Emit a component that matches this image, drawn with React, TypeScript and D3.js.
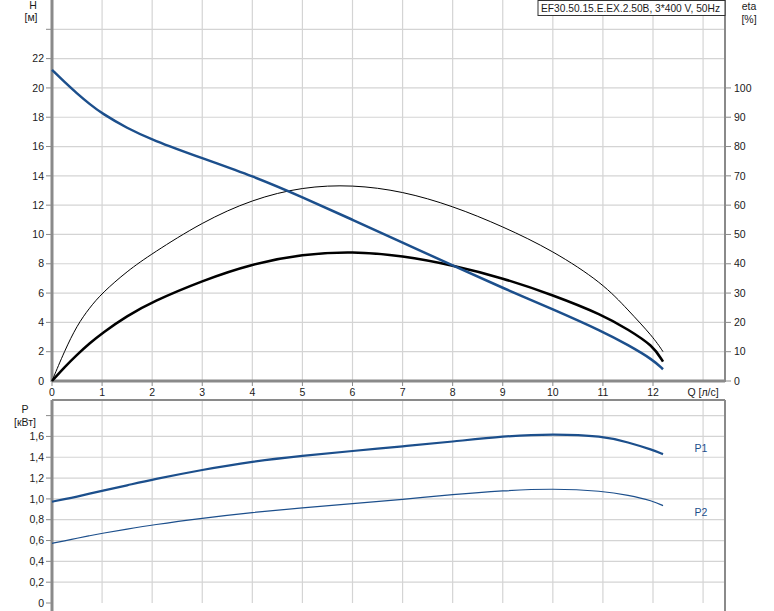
import React from "react";
import * as d3 from "d3";

const qPts = [0, 0.25, 0.5, 0.75, 1, 1.5, 2, 3, 4, 5, 6, 7, 8, 9, 10, 11, 11.5, 12, 12.2];
const headH = [21.23, 20.4, 19.62, 18.9, 18.25, 17.25, 16.45, 15.2, 14.0, 12.55, 11.0, 9.45, 7.88, 6.35, 4.9, 3.37, 2.46, 1.45, 0.8];
const etaThin = [0, 2.05, 3.8, 5.0, 6.0, 7.5, 8.7, 10.85, 12.4, 13.25, 13.4, 12.95, 11.95, 10.55, 8.9, 6.67, 4.85, 3.02, 2.0];
const etaThick = [0, 0.95, 1.8, 2.57, 3.27, 4.45, 5.4, 6.85, 8.0, 8.65, 8.85, 8.55, 7.9, 7.03, 5.87, 4.5, 3.52, 2.42, 1.32];
const p1 = [0.973, 0.997, 1.022, 1.05, 1.078, 1.13, 1.185, 1.28, 1.36, 1.415, 1.46, 1.505, 1.55, 1.602, 1.626, 1.604, 1.545, 1.47, 1.43];
const p2 = [0.573, 0.597, 0.622, 0.646, 0.67, 0.71, 0.75, 0.815, 0.87, 0.915, 0.955, 0.995, 1.042, 1.079, 1.1, 1.076, 1.037, 0.98, 0.935];

const qTicks = [0, 1, 2, 3, 4, 5, 6, 7, 8, 9, 10, 11, 12];
const hTicks = [2, 4, 6, 8, 10, 12, 14, 16, 18, 20, 22];
const etaTicks = [10, 20, 30, 40, 50, 60, 70, 80, 90, 100];
const pTicks = [0.2, 0.4, 0.6, 0.8, 1.0, 1.2, 1.4, 1.6];

const title = "EF30.50.15.E.EX.2.50B, 3*400 V, 50Hz";

const L = 52, R = 725;
const TOP_B = 381, TOP_T = 0;
const BOT_B = 603, BOT_T = 400;

export default function App() {
  const x = d3.scaleLinear().domain([0, 12]).range([L, 653]);
  const xMax = x.invert(R);
  const yH = d3.scaleLinear().domain([0, 26]).range([TOP_B, TOP_T]);
  const yEta = d3.scaleLinear().domain([0, 130]).range([TOP_B, TOP_T]);
  const yP = d3.scaleLinear().domain([0, 1.95]).range([BOT_B, BOT_T]);

  const mk = (ys: number[], sc: d3.ScaleLinear<number, number>) =>
    d3.line<number>().x((_, i) => x(qPts[i])).y((v) => sc(v)).curve(d3.curveBasis)(ys) || "";

  const gridX = d3.range(1, Math.floor(xMax) + 1);
  const gridH = d3.range(2, 26, 2);
  const gridP = d3.range(0.2, 1.9, 0.2);
  const blue = "#1c4f8c";
  const font = "Liberation Sans, Arial, sans-serif";
  const gridC = "#d4d4d4";
  const axC = "#8a8a8a";
  const txt = "#1a1a1a";

  return (
    <svg width={774} height={611} style={{ position: "absolute", left: 0, top: 0 }} fontFamily={font} fontSize={10.5}>
      <rect width={774} height={611} fill="#fff" />
      {gridX.map((q) => (
        <line key={"gx" + q} x1={x(q)} x2={x(q)} y1={TOP_T} y2={TOP_B} stroke={gridC} strokeWidth={1.2} />
      ))}
      {gridH.map((h) => (
        <line key={"gh" + h} x1={L} x2={R} y1={yH(h)} y2={yH(h)} stroke={gridC} strokeWidth={1.2} />
      ))}
      {gridX.map((q) => (
        <line key={"bx" + q} x1={x(q)} x2={x(q)} y1={BOT_T} y2={BOT_B} stroke={gridC} strokeWidth={1.2} />
      ))}
      {gridP.map((p) => (
        <line key={"bp" + p} x1={L} x2={R} y1={yP(p)} y2={yP(p)} stroke={gridC} strokeWidth={1.2} />
      ))}

      <line x1={L} x2={L} y1={TOP_T} y2={TOP_B + 1} stroke={axC} strokeWidth={3} />
      <line x1={L} x2={R} y1={TOP_B} y2={TOP_B} stroke={axC} strokeWidth={3} />
      <line x1={R} x2={R} y1={TOP_T} y2={TOP_B + 1} stroke={axC} strokeWidth={2} />
      {[...hTicks, 24].map((h) => (
        <line key={"th" + h} x1={L - 6} x2={L} y1={yH(h)} y2={yH(h)} stroke={axC} strokeWidth={1} />
      ))}
      {hTicks.map((h) => (
        <text key={"lh" + h} x={L - 8} y={yH(h)} dy="0.35em" textAnchor="end" fill={txt}>{h}</text>
      ))}
      <text x={L - 8} y={TOP_B} dy="0.35em" textAnchor="end" fill={txt}>0</text>
      {[0, ...etaTicks].map((e) => (
        <line key={"te" + e} x1={R} x2={R + 6} y1={yEta(e)} y2={yEta(e)} stroke={axC} strokeWidth={1} />
      ))}
      {[0, ...etaTicks].map((e) => (
        <text key={"le" + e} x={R + 9} y={yEta(e)} dy="0.35em" fill={txt}>{e}</text>
      ))}
      {qTicks.map((q) => (
        <line key={"tq" + q} x1={x(q)} x2={x(q)} y1={TOP_B} y2={TOP_B + 5} stroke={axC} strokeWidth={1} />
      ))}
      {qTicks.map((q) => (
        <text key={"lq" + q} x={x(q)} y={TOP_B + 15} textAnchor="middle" fill={txt}>{q}</text>
      ))}
      <text x={x(13)} y={TOP_B + 15} textAnchor="middle" fill={txt}>Q [л/с]</text>
      <text x={33} y={9} textAnchor="middle" fill={txt}>H</text>
      <text x={31} y={21} textAnchor="middle" fill={txt}>[м]</text>
      <text x={749} y={10} textAnchor="middle" fill={txt}>eta</text>
      <text x={749} y={23} textAnchor="middle" fill={txt}>[%]</text>
      <rect x={538} y={0.5} width={187} height={15} fill="#fff" stroke="#333" strokeWidth={1} />
      <text x={541} y={12} textLength={179} lengthAdjust="spacingAndGlyphs" fill={txt}>{title}</text>

      <path d={mk(etaThin, yH)} fill="none" stroke="#000" strokeWidth={1} />
      <path d={mk(etaThick, yH)} fill="none" stroke="#000" strokeWidth={2.5} />
      <path d={mk(headH, yH)} fill="none" stroke={blue} strokeWidth={2.5} />

      <line x1={L} x2={L} y1={BOT_T} y2={611} stroke={axC} strokeWidth={3} />
      <line x1={L} x2={R} y1={BOT_T} y2={BOT_T} stroke={axC} strokeWidth={2} />
      <line x1={R} x2={R} y1={BOT_T} y2={611} stroke={axC} strokeWidth={2} />
      {[0, ...pTicks, 1.8].map((p) => (
        <line key={"tp" + p} x1={L - 6} x2={L} y1={yP(p)} y2={yP(p)} stroke={axC} strokeWidth={1} />
      ))}
      {[0, ...pTicks].map((p) => (
        <text key={"lp" + p} x={L - 8} y={yP(p)} dy="0.35em" textAnchor="end" fill={txt}>
          {p === 0 ? "0" : p.toFixed(1).replace(".", ",")}
        </text>
      ))}
      <text x={25} y={413} textAnchor="middle" fill={txt}>P</text>
      <text x={25} y={426} textAnchor="middle" fill={txt}>[кВт]</text>

      <path d={mk(p1, yP)} fill="none" stroke={blue} strokeWidth={2.2} />
      <path d={mk(p2, yP)} fill="none" stroke={blue} strokeWidth={1.2} />
      <text x={701} y={452} textAnchor="middle" fill={blue}>P1</text>
      <text x={701} y={516} textAnchor="middle" fill={blue}>P2</text>
    </svg>
  );
}
